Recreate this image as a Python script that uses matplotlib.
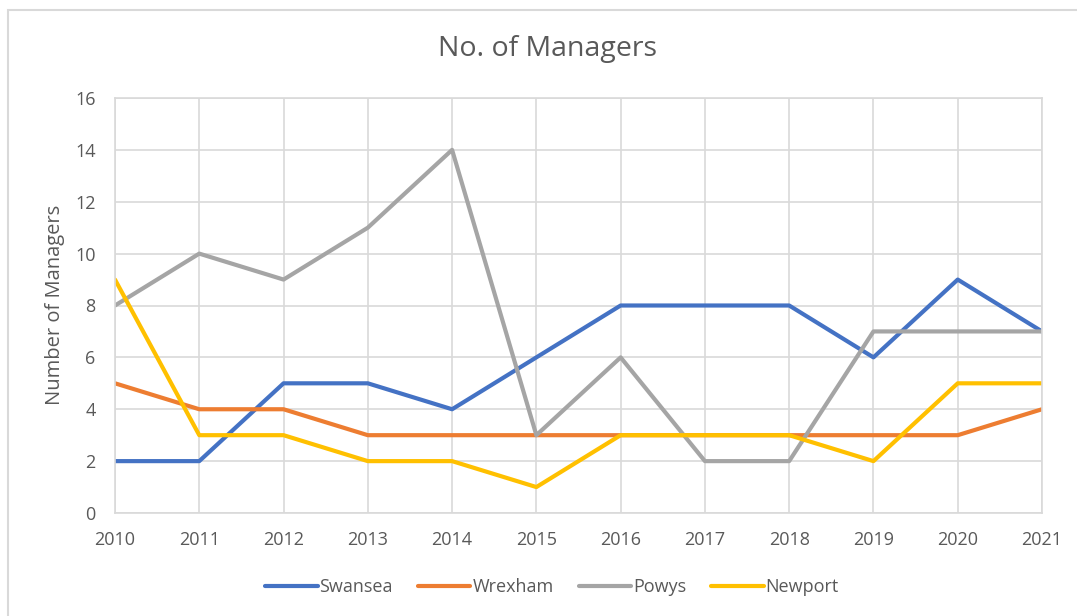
import matplotlib
matplotlib.use('Agg')
import matplotlib.pyplot as plt
from matplotlib.patches import Rectangle

years = [2010, 2011, 2012, 2013, 2014, 2015, 2016, 2017, 2018, 2019, 2020, 2021]
swansea = [2, 2, 5, 5, 4, 6, 8, 8, 8, 6, 9, 7]
wrexham = [5, 4, 4, 3, 3, 3, 3, 3, 3, 3, 3, 4]
powys = [8, 10, 9, 11, 14, 3, 6, 2, 2, 7, 7, 7]
newport = [9, 3, 3, 2, 2, 1, 3, 3, 3, 2, 5, 5]

series = [
    ("Swansea", swansea, "#4472C4"),
    ("Wrexham", wrexham, "#ED7D31"),
    ("Powys", powys, "#A5A5A5"),
    ("Newport", newport, "#FFC000"),
]

plt.rcParams['font.family'] = ['Open Sans', 'DejaVu Sans']
txt = "#595959"

fig = plt.figure(figsize=(10.77, 6.16), dpi=100)
# outer chart frame
fig.patches.append(Rectangle((8 / 1077, -0.1), 1.2, 1 - 10 / 616 + 0.1,
                             transform=fig.transFigure, fill=False,
                             edgecolor="#d9d9d9", linewidth=1.5))

ax = fig.add_axes([115 / 1077, 1 - 513 / 616, (1042 - 115) / 1077, (513 - 98) / 616])
for name, vals, col in series:
    ax.plot(years, vals, color=col, linewidth=3, label=name, solid_capstyle='round')

ax.set_xlim(2010, 2021)
ax.set_ylim(0, 16)
ax.set_xticks(years)
ax.set_yticks(range(0, 17, 2))
ax.grid(True, color="#d9d9d9", linewidth=1.2)
ax.set_axisbelow(True)
for s in ax.spines.values():
    s.set_color("#d9d9d9")
    s.set_linewidth(1.2)
ax.tick_params(length=0, colors=txt, labelsize=13, pad=13)
ax.tick_params(axis='y', pad=14)

fig.text(55 / 1077, 1 - 305 / 616, "Number of Managers", rotation=90,
         ha='center', va='center', fontsize=14.5, color=txt)
fig.text(547 / 1077, 1 - 49 / 616, "No. of Managers", ha='center', va='center',
         fontsize=20.5, color=txt)

fig.legend(loc='center', bbox_to_anchor=(552 / 1077, 1 - 587 / 616), ncol=4,
           frameon=False, fontsize=13, labelcolor=txt, handlelength=2.9,
           handletextpad=0.1, columnspacing=1.4)

fig.savefig("out.png", dpi=100)
